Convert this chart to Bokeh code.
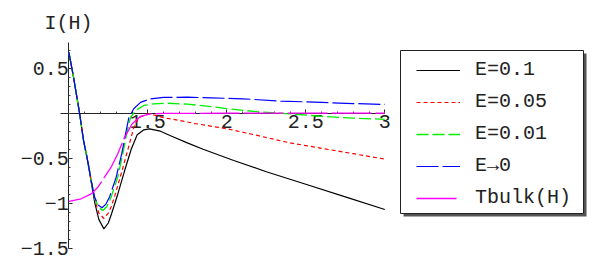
from bokeh.plotting import figure
from bokeh.models import (LinearAxis, FixedTicker, Range1d, Legend, LegendItem,
                          BoxAnnotation, Label)
from bokeh.embed import file_html
from bokeh.resources import INLINE

# ---------------- data ----------------
h_e01 = [1.0, 1.03, 1.068, 1.093, 1.12, 1.142, 1.165, 1.19, 1.222, 1.25, 1.27, 1.31,
         1.353, 1.395, 1.433, 1.475, 1.51, 1.58, 1.644, 1.75, 1.85, 2.044, 2.25, 2.5,
         2.75, 3.0]
i_e01 = [0.68, 0.40, 0.0, -0.30, -0.54, -0.77, -1.00, -1.18, -1.285, -1.22, -1.12, -0.90,
         -0.64, -0.40, -0.24, -0.185, -0.175, -0.20, -0.25, -0.33, -0.40, -0.526, -0.65,
         -0.79, -0.93, -1.07]

h_e005 = [1.0, 1.03, 1.068, 1.093, 1.12, 1.142, 1.165, 1.19, 1.222, 1.25, 1.268, 1.289,
          1.332, 1.373, 1.411, 1.443, 1.49, 1.52, 1.56, 1.6, 1.7, 1.8, 2.0, 2.2, 2.4,
          2.6, 2.8, 3.0]
i_e005 = [0.68, 0.40, 0.0, -0.30, -0.53, -0.75, -0.97, -1.11, -1.17, -1.11, -1.04, -0.93,
          -0.67, -0.41, -0.16, -0.05, -0.01, -0.01, -0.03, -0.05, -0.08, -0.115, -0.173,
          -0.25, -0.33, -0.39, -0.45, -0.51]

h_e001 = [1.0, 1.03, 1.068, 1.093, 1.12, 1.142, 1.165, 1.19, 1.215, 1.24, 1.268, 1.31,
          1.342, 1.365, 1.39, 1.422, 1.475, 1.538, 1.62, 1.75, 1.9, 2.0, 2.2, 2.4, 2.6,
          2.8, 3.0]
i_e001 = [0.68, 0.40, 0.0, -0.30, -0.53, -0.75, -0.95, -1.05, -1.08, -1.04, -0.93, -0.71,
          -0.45, -0.24, -0.05, 0.03, 0.086, 0.104, 0.111, 0.10, 0.074, 0.05, 0.015,
          -0.007, -0.035, -0.055, -0.068]

h_e0 = [1.0, 1.03, 1.068, 1.093, 1.12, 1.142, 1.163, 1.185, 1.21, 1.235, 1.258, 1.30,
        1.335, 1.358, 1.38, 1.411, 1.454, 1.517, 1.60, 1.75, 1.9, 2.1, 2.34, 2.6, 2.8, 3.0]
i_e0 = [0.68, 0.40, 0.0, -0.30, -0.53, -0.75, -0.93, -1.02, -1.05, -1.01, -0.93, -0.71,
        -0.45, -0.24, -0.05, 0.05, 0.12, 0.16, 0.175, 0.178, 0.171, 0.16, 0.135, 0.12,
        0.107, 0.097]

h_bulk = [1.0, 1.078, 1.142, 1.184, 1.226, 1.268, 1.31, 1.35, 1.40, 1.454, 1.517, 1.6,
          2.0, 2.5, 3.0]
i_bulk = [-0.98, -0.951, -0.896, -0.822, -0.711, -0.60, -0.45, -0.28, -0.12, -0.035,
          -0.008, -0.003, 0.0, 0.0, 0.0]

series_labels = ["E=0.1", "E=0.05", "E=0.01", "E\u21920", "Tbulk(H)"]

x_tick_values = [1.5, 2.0, 2.5, 3.0]
x_tick_labels = ["1.5", "2", "2.5", "3"]
y_tick_values = [-1.5, -1.0, -0.5, 0.5]
y_tick_labels = ["\u22121.5", "\u22121", "\u22120.5", "0.5"]
axis_title = "I(H)"

# ---------------- figure ----------------
W, H = 600, 264
FONT = "Liberation Mono"
FS = "20px"

p = figure(width=W, height=H, output_backend="svg", toolbar_location=None,
           x_range=Range1d(0.5677, 4.3652), y_range=Range1d(-1.6811, 1.2522),
           x_axis_type=None, y_axis_type=None, min_border=0)
p.outline_line_color = None
p.xgrid.visible = False
p.ygrid.visible = False
p.background_fill_color = "white"
p.border_fill_color = "white"

xminor = [round(1.0 + 0.1 * i, 1) for i in range(1, 21)]
yminor = [round(-1.5 + 0.1 * i, 1) for i in range(0, 23)]

xax = LinearAxis(ticker=FixedTicker(ticks=x_tick_values, minor_ticks=xminor),
                 fixed_location=0, bounds=(0.95, 3.0))
xax.major_label_overrides = {v: s for v, s in zip(x_tick_values, x_tick_labels)}
yax = LinearAxis(ticker=FixedTicker(ticks=y_tick_values, minor_ticks=yminor),
                 fixed_location=1.0, bounds=(-1.5, 0.79))
yax.major_label_overrides = {v: s for v, s in zip(y_tick_values, y_tick_labels)}
for ax in (xax, yax):
    ax.level = "underlay"
    ax.axis_line_color = "#222222"
    ax.axis_line_width = 1
    ax.major_tick_in = 4
    ax.major_tick_out = 0
    ax.minor_tick_in = 2
    ax.minor_tick_out = 0
    ax.major_tick_line_color = "#222222"
    ax.minor_tick_line_color = "#444444"
    ax.major_label_text_font = FONT
    ax.major_label_text_font_size = FS
    ax.major_label_text_color = "#222222"
xax.major_label_standoff = 2
yax.major_label_standoff = 0
p.add_layout(xax, "below")
p.add_layout(yax, "left")

r1 = p.line(h_e01, i_e01, line_color="black", line_width=1.2)
r2 = p.line(h_e005, i_e005, line_color="#ff0000", line_width=1.2, line_dash="4 3")
r3 = p.line(h_e001, i_e001, line_color="#00ee00", line_width=1.3, line_dash="12 4")
r4 = p.line(h_e0, i_e0, line_color="#0000ff", line_width=1.2, line_dash="22 4")
r5 = p.line(h_bulk, i_bulk, line_color="#ff00ff", line_width=1.3, line_dash="40 4")

p.add_layout(Label(x=44, y=H - 23, x_units="screen", y_units="screen",
                   text=axis_title, text_font=FONT, text_font_size=FS,
                   text_baseline="alphabetic", text_color="#222222"))

# legend frame with shadow
shadow = BoxAnnotation(left=403, right=586, top=H - 53, bottom=H - 216,
                       left_units="screen", right_units="screen",
                       top_units="screen", bottom_units="screen",
                       fill_color="#555555", fill_alpha=1, line_color=None)
frame = BoxAnnotation(left=400, right=583, top=H - 50, bottom=H - 213,
                      left_units="screen", right_units="screen",
                      top_units="screen", bottom_units="screen",
                      fill_color="white", fill_alpha=1, line_color="#222222",
                      line_width=1, line_alpha=1)
p.add_layout(shadow, "center")
p.add_layout(frame, "center")

legend = Legend(items=[LegendItem(label=l, renderers=[r]) for l, r in
                       zip(series_labels, [r1, r2, r3, r4, r5])],
                location=(416, 55), padding=0, margin=0,
                border_line_color=None, background_fill_alpha=0,
                glyph_width=44, glyph_height=22, label_height=22,
                label_standoff=15, spacing=9,
                label_text_font=FONT, label_text_font_size=FS,
                label_text_color="#222222")
p.add_layout(legend, "center")

open("out.html", "w").write(file_html(p, INLINE))
